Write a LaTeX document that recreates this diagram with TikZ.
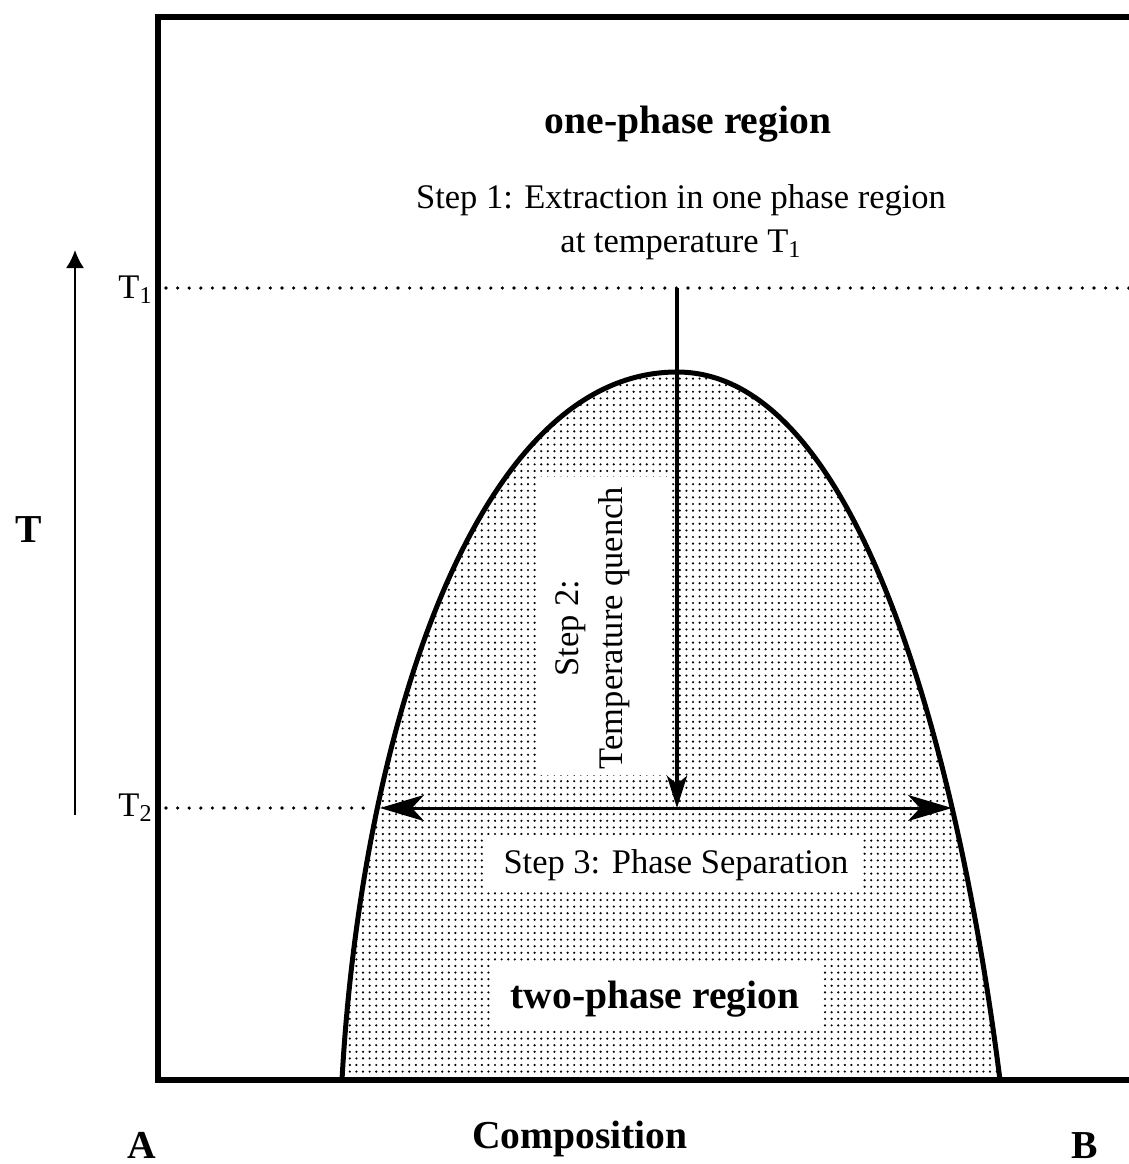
\documentclass[tikz,border=0pt]{standalone}
\usepackage{fontspec}
\setmainfont{Liberation Serif}
\usetikzlibrary{arrows.meta,patterns.meta,positioning}
\tikzset{%
  axisline/.style={line width=3pt},
  domeline/.style={line width=2.5pt},
  domefill/.style={pattern={Dots[distance=3.3pt,radius=0.6pt]},pattern color=black},
  templine/.style={line width=1.8pt,line cap=round,dash pattern=on 0pt off 5.8pt},
  steptext/.style={font=\fontsize{17.25}{22}\selectfont,inner sep=0pt},
  boldtext/.style={font=\fontsize{19.8}{24}\selectfont\bfseries,inner sep=0pt},
  tarrow/.style={line width=1pt,-{Latex[length=9pt,width=9pt]}},
  quench/.style={line width=2pt,-{Stealth[length=16pt,width=10pt,inset=4pt]}},
  separate/.style={line width=1.5pt,
    {Stealth[length=22pt,width=13pt,inset=6pt]}-{Stealth[length=22pt,width=13pt,inset=6pt]}}
}
\begin{document}
\begin{tikzpicture}[x=0.5pt,y=-0.5pt]
  \useasboundingbox (0,0) rectangle (1129,1164);

  % miscibility dome
  \coordinate (apex) at (677,372);
  \coordinate (baseL) at (342,1080);
  \coordinate (baseR) at (1000,1080);
  \fill [domefill] (baseL) .. controls (360,750) and (470,372) .. (apex)
    .. controls (865,372) and (962,780) .. (baseR) -- cycle;

  % white boxes behind the texts
  \fill [white] (538,477) rectangle (672,775);
  \fill [white] (483,835) rectangle (862,892);
  \fill [white] (492,962) rectangle (822,1030);

  \draw [domeline] (baseL) .. controls (360,750) and (470,372) .. (apex)
    .. controls (865,372) and (962,780) .. (baseR);

  % temperature levels
  \coordinate (t1start) at (166,288);
  \coordinate (t1end) at (1129,288);
  \coordinate (t2start) at (166,808);
  \coordinate (t2end) at (372,808);
  \draw [templine] (t1start) -- (t1end);
  \draw [templine] (t2start) -- (t2end);

  \coordinate (quenchtop) at (677,288);
  \coordinate (quenchbot) at (677,808);
  \coordinate (sepL) at (380,808);
  \coordinate (sepR) at (952,808);
  \draw [quench] (quenchtop) -- (quenchbot);
  \draw [separate] (sepL) -- (sepR);

  % axes
  \draw [axisline] (1129,17) -- (158,17) -- (158,1080) -- (1129,1080);
  \coordinate (taxisbot) at (75,815);
  \coordinate (taxistop) at (75,250);
  \draw [tarrow] (taxisbot) -- (taxistop);

  % labels
  \node [boldtext,anchor=base] (onephase) at (688,133) {one-phase region};
  \node [steptext,align=center] (step1) at (681,222)
    {Step 1: Extraction in one phase region\\at temperature T\textsubscript{1}};
  \node [steptext,align=center,rotate=90] (step2) at (593,628)
    {Step 2:\\Temperature quench};
  \node [steptext,anchor=base] (step3) at (676,873) {Step 3: Phase Separation};
  \node [boldtext,anchor=base] (twophase) at (655,1008) {two-phase region};

  \node [steptext,anchor=base east] (tone) at (153,298) {T\textsubscript{1}};
  \node [steptext,anchor=base east] (ttwo) at (153,816) {T\textsubscript{2}};
  \node [boldtext] (taxis) at (29,530) {T};
  \node [boldtext,anchor=base] (compA) at (142,1158) {A};
  \node [boldtext,anchor=base] (compB) at (1085,1158) {B};
  \node [boldtext,anchor=base] (comp) at (580,1148) {Composition};
\end{tikzpicture}
\end{document}
